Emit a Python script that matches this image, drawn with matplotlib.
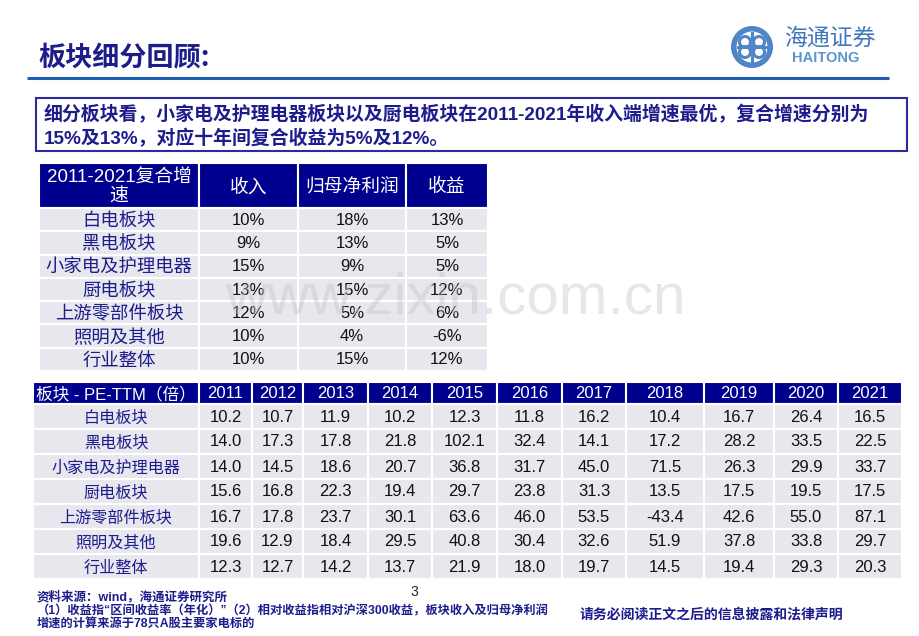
import matplotlib
matplotlib.use("Agg")
import matplotlib.pyplot as plt
from matplotlib.patches import Rectangle, Circle

# ---------------- data ----------------
title = "板块细分回顾:"
summary_lines = [
    "细分板块看，小家电及护理电器板块以及厨电板块在2011-2021年收入端增速最优，复合增速分别为",
    "15%及13%，对应十年间复合收益为5%及12%。",
]

sectors = ["白电板块", "黑电板块", "小家电及护理电器", "厨电板块",
           "上游零部件板块", "照明及其他", "行业整体"]
cagr_header = ["2011-2021复合增\n速", "收入", "归母净利润", "收益"]
revenue_cagr = ["10%", "9%", "15%", "13%", "12%", "10%", "10%"]
profit_cagr = ["18%", "13%", "9%", "15%", "5%", "4%", "15%"]
return_cagr = ["13%", "5%", "5%", "12%", "6%", "-6%", "12%"]

pe_header = "板块 - PE-TTM（倍）"
years = ["2011", "2012", "2013", "2014", "2015", "2016",
         "2017", "2018", "2019", "2020", "2021"]
pe_white = [10.2, 10.7, 11.9, 10.2, 12.3, 11.8, 16.2, 10.4, 16.7, 26.4, 16.5]
pe_black = [14.0, 17.3, 17.8, 21.8, 102.1, 32.4, 14.1, 17.2, 28.2, 33.5, 22.5]
pe_small = [14.0, 14.5, 18.6, 20.7, 36.8, 31.7, 45.0, 71.5, 26.3, 29.9, 33.7]
pe_kitchen = [15.6, 16.8, 22.3, 19.4, 29.7, 23.8, 31.3, 13.5, 17.5, 19.5, 17.5]
pe_upstream = [16.7, 17.8, 23.7, 30.1, 63.6, 46.0, 53.5, -43.4, 42.6, 55.0, 87.1]
pe_lighting = [19.6, 12.9, 18.4, 29.5, 40.8, 30.4, 32.6, 51.9, 37.8, 33.8, 29.7]
pe_industry = [12.3, 12.7, 14.2, 13.7, 21.9, 18.0, 19.7, 14.5, 19.4, 29.3, 20.3]
pe_rows = [pe_white, pe_black, pe_small, pe_kitchen, pe_upstream, pe_lighting, pe_industry]

source_note = "资料来源：wind，海通证券研究所"
note_lines = ["（1）收益指“区间收益率（年化）”（2）相对收益指相对沪深300收益，板块收入及归母净利润",
              "增速的计算来源于78只A股主要家电标的"]
page_number = "3"
disclaimer = "请务必阅读正文之后的信息披露和法律声明"
logo_cn = "海通证券"
logo_en = "HAITONG"
watermark = "www.zixin.com.cn"

# ---------------- style ----------------
MIX = ["Liberation Sans", "Noto Sans CJK SC"]
CJK = ["Noto Sans CJK SC", "Liberation Sans"]
NAVY = "#1c1c8c"
HEAD = "#00008f"
CELL = "#e7e7ed"

fig = plt.figure(figsize=(9.2, 6.36), dpi=100)
ax = fig.add_axes([0, 0, 1, 1])
ax.set_xlim(0, 920)
ax.set_ylim(636, 0)
ax.axis("off")

# title and rule
ax.text(38, 58, title, family=CJK, fontsize=19.5, fontweight="bold", color=NAVY,
        ha="left", va="center")
ax.plot([27, 889], [78, 78], color="#1f5fb0", lw=2.2, solid_capstyle="butt")

# logo
ax.add_patch(Circle((752, 47), 21, facecolor="#4f86c6", edgecolor="none"))
ax.add_patch(Circle((752, 47), 15.5, facecolor="white", edgecolor="none"))
for (cx, cy) in [(745, 42), (759, 42), (745, 52), (759, 52)]:
    ax.add_patch(Circle((cx, cy), 5.5, facecolor="none", edgecolor="#4f86c6", lw=2.2))
ax.plot([752, 752], [33, 61], color="#4f86c6", lw=2.2)
ax.plot([738, 766], [47, 47], color="#4f86c6", lw=2.2)
ax.text(830, 38, logo_cn, family=CJK, fontsize=16.5, color="#3f77bd",
        ha="center", va="center", style="italic")
ax.text(826, 58, logo_en, family=["Liberation Sans"], fontsize=10.5,
        fontweight="bold", color="#5a95d2", ha="center", va="center")

# summary box
ax.add_patch(Rectangle((36, 98), 871, 53, facecolor="none", edgecolor="#2b2b9c", lw=1.5))
ax.text(44, 115, summary_lines[0], family=MIX, fontsize=13.6, fontweight="bold",
        color=NAVY, ha="left", va="center")
ax.text(44, 139, summary_lines[1], family=MIX, fontsize=13.6, fontweight="bold",
        color=NAVY, ha="left", va="center")

# ---------------- table 1 ----------------
t1_x = [39, 199, 298, 406, 488]
t1_head = (163, 208)
t1_row_h = (371 - 208) / len(sectors)

for j in range(4):
    x0, x1 = t1_x[j], t1_x[j + 1]
    ax.add_patch(Rectangle((x0, t1_head[0]), x1 - x0, t1_head[1] - t1_head[0],
                           facecolor=HEAD, edgecolor="white", lw=1.5))
    ax.text((x0 + x1) / 2, (t1_head[0] + t1_head[1]) / 2 + 2, cagr_header[j],
            family=MIX, fontsize=13.5, color="white", ha="center", va="center",
            linespacing=1.2)

t1_cols = [sectors, revenue_cagr, profit_cagr, return_cagr]
for i in range(len(sectors)):
    y0 = t1_head[1] + i * t1_row_h
    for j in range(4):
        x0, x1 = t1_x[j], t1_x[j + 1]
        ax.add_patch(Rectangle((x0, y0), x1 - x0, t1_row_h,
                               facecolor=CELL, edgecolor="white", lw=1.5))
        if j == 0:
            ax.text((x0 + x1) / 2, y0 + t1_row_h / 2 + 2, t1_cols[j][i], family=CJK,
                    fontsize=13.2, color=NAVY, ha="center", va="center")
        else:
            ax.text((x0 + x1) / 2, y0 + t1_row_h / 2 + 0.5, t1_cols[j][i], family=MIX,
                    fontsize=12, color="#111111", ha="center", va="center")

# ---------------- table 2 ----------------
t2_x = [33, 199, 252, 303, 368, 432, 497, 562, 626, 704, 774, 838, 902]
t2_head = (382, 404)
t2_row_h = 25

head_labels = [pe_header] + years
for j in range(len(head_labels)):
    x0, x1 = t2_x[j], t2_x[j + 1]
    ax.add_patch(Rectangle((x0, t2_head[0]), x1 - x0, t2_head[1] - t2_head[0],
                           facecolor=HEAD, edgecolor="white", lw=1.5))
    ax.text((x0 + x1) / 2, (t2_head[0] + t2_head[1]) / 2 + 1, head_labels[j],
            family=MIX, fontsize=12, color="white", ha="center", va="center")

for i, name in enumerate(sectors):
    y0 = t2_head[1] + i * t2_row_h
    for j in range(len(head_labels)):
        x0, x1 = t2_x[j], t2_x[j + 1]
        ax.add_patch(Rectangle((x0, y0), x1 - x0, t2_row_h,
                               facecolor=CELL, edgecolor="white", lw=1.5))
        if j == 0:
            ax.text((x0 + x1) / 2, y0 + t2_row_h / 2 + 2, name, family=CJK,
                    fontsize=11.6, color=NAVY, ha="center", va="center")
        else:
            ax.text((x0 + x1) / 2, y0 + t2_row_h / 2 + 0.5, f"{pe_rows[i][j - 1]:.1f}",
                    family=MIX, fontsize=12, color="#111111", ha="center", va="center")

# watermark
ax.text(455, 298, watermark, family=["Liberation Sans"], fontsize=42,
        color="#c4c4c4", alpha=0.4, ha="center", va="center", zorder=10)

# footer
ax.text(414, 592, page_number, family=MIX, fontsize=10, color="#222222",
        ha="center", va="center")
ax.text(37, 597, source_note, family=MIX, fontsize=9, fontweight="bold",
        color=NAVY, ha="left", va="center")
ax.text(37, 611, note_lines[0], family=MIX, fontsize=8.8, fontweight="bold",
        color=NAVY, ha="left", va="center")
ax.text(37, 625, note_lines[1], family=MIX, fontsize=8.8, fontweight="bold",
        color=NAVY, ha="left", va="center")
ax.text(580, 615, disclaimer, family=CJK, fontsize=10, fontweight="bold",
        color=NAVY, ha="left", va="center")

fig.savefig("out.png", dpi=100)
